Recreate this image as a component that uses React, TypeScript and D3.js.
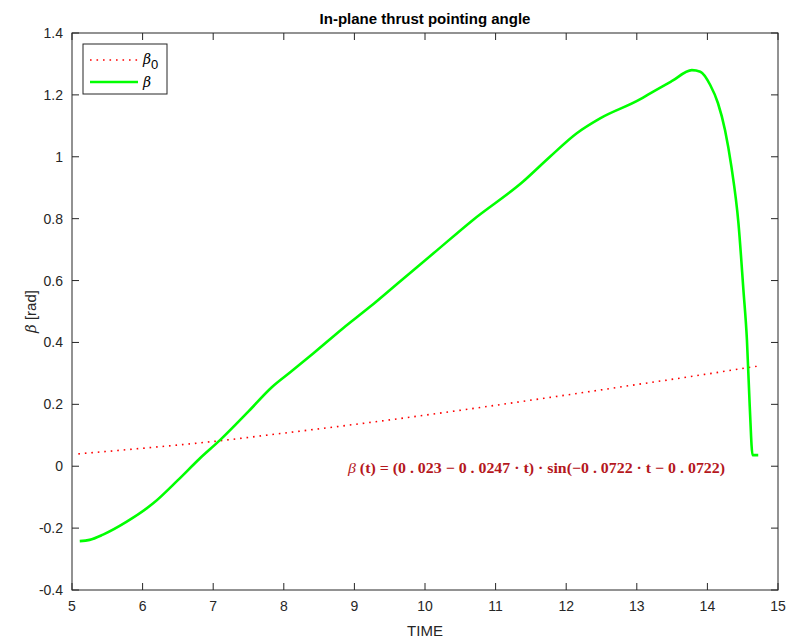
import React from "react";
import * as d3 from "d3";

const betaT = [5.11, 5.25, 5.44, 5.77, 6.15, 6.5, 6.81, 7.1, 7.5, 7.83, 8.1, 8.42, 8.84, 9.22, 9.65, 10.12, 10.68, 11.39, 11.77, 12.15, 12.48, 13.05, 13.19, 13.5, 13.78, 13.9, 14.04, 14.15, 14.25, 14.34, 14.44, 14.51, 14.56, 14.6, 14.64, 14.72];
const betaV = [-0.242, -0.238, -0.221, -0.18, -0.12, -0.045, 0.025, 0.085, 0.177, 0.255, 0.305, 0.365, 0.446, 0.515, 0.598, 0.688, 0.796, 0.92, 1.0, 1.076, 1.124, 1.186, 1.205, 1.245, 1.28, 1.275, 1.232, 1.173, 1.086, 0.968, 0.785, 0.57, 0.408, 0.192, 0.036, 0.036];
const beta0T = [5.09, 6, 7, 8, 9, 10, 11, 12, 13, 14, 14.72];
const beta0V = [0.04, 0.058, 0.08, 0.107, 0.135, 0.165, 0.197, 0.23, 0.264, 0.298, 0.324];
const xTicks = [5, 6, 7, 8, 9, 10, 11, 12, 13, 14, 15];
const yTicks = [-0.4, -0.2, 0, 0.2, 0.4, 0.6, 0.8, 1, 1.2, 1.4];

const W = 789, H = 641;
const L = 72, R = 778, T = 33, B = 590;
const axisColor = "#262626";
const font = "'Liberation Sans', Arial, Helvetica, sans-serif";

export default function App() {
  const x = d3.scaleLinear().domain([5, 15]).range([L, R]);
  const y = d3.scaleLinear().domain([-0.4, 1.4]).range([B, T]);
  const line = d3.line<[number, number]>().x(d => x(d[0])).y(d => y(d[1])).curve(d3.curveMonotoneX);
  const betaPts: [number, number][] = betaT.map((t, i) => [t, betaV[i]]);
  const beta0Pts: [number, number][] = beta0T.map((t, i) => [t, beta0V[i]]);
  const tl = 7;
  return (
    <svg width={W} height={H} style={{ position: "absolute", left: 0, top: 0, background: "#fff" }}>
      <rect x={0} y={0} width={W} height={H} fill="#fff" />
      <text x={(L + R) / 2} y={24} textAnchor="middle" fontFamily={font} fontWeight="bold" fontSize={15} fill="#000">In-plane thrust pointing angle</text>
      <path d={line(beta0Pts) || ""} fill="none" stroke="#ff0000" strokeWidth={1.6} strokeDasharray="1.6 4.9" />
      <path d={line(betaPts) || ""} fill="none" stroke="#00ff00" strokeWidth={2.6} strokeLinejoin="round" />
      <rect x={L} y={T} width={R - L} height={B - T} fill="none" stroke={axisColor} strokeWidth={1} />
      {xTicks.map(v => (
        <g key={"x" + v}>
          <line x1={x(v)} x2={x(v)} y1={B} y2={B - tl} stroke={axisColor} />
          <line x1={x(v)} x2={x(v)} y1={T} y2={T + tl} stroke={axisColor} />
          <text x={x(v)} y={611} textAnchor="middle" fontFamily={font} fontSize={14} fill="#262626">{v}</text>
        </g>
      ))}
      {yTicks.map(v => (
        <g key={"y" + v}>
          <line x1={L} x2={L + tl} y1={y(v)} y2={y(v)} stroke={axisColor} />
          <line x1={R} x2={R - tl} y1={y(v)} y2={y(v)} stroke={axisColor} />
          <text x={63} y={y(v) + 5} textAnchor="end" fontFamily={font} fontSize={14} fill="#262626">{String(+v.toFixed(1))}</text>
        </g>
      ))}
      <text x={(L + R) / 2} y={636} textAnchor="middle" fontFamily={font} fontSize={15} fill="#262626">TIME</text>
      <text transform={`translate(36,${(T + B) / 2}) rotate(-90)`} textAnchor="middle" fontFamily={font} fontSize={15} fill="#262626">
        <tspan fontFamily="'DejaVu Serif', serif" fontStyle="italic">β</tspan> [rad]
      </text>
      <text x={348} y={473} fontFamily="'Liberation Serif', 'Times New Roman', serif" fontWeight="bold" fontSize={15} fill="#b5171d" textLength={377} lengthAdjust="spacingAndGlyphs">
        <tspan fontStyle="italic" fontWeight="normal">β</tspan> (t) = (0 . 023 − 0 . 0247 · t) · sin(−0 . 0722 · t − 0 . 0722)
      </text>
      <rect x={83} y={44} width={84} height={50} fill="#fff" stroke={axisColor} strokeWidth={1} />
      <line x1={90} x2={138} y1={60} y2={60} stroke="#ff0000" strokeWidth={1.6} strokeDasharray="1.6 4.9" />
      <line x1={90} x2={138} y1={82} y2={82} stroke="#00ff00" strokeWidth={2.6} />
      <text x={143} y={64} fontFamily={font} fontSize={14} fill="#000">
        <tspan fontFamily="'DejaVu Serif', serif" fontStyle="italic">β</tspan>
        <tspan dy={5} fontSize={13}>0</tspan>
      </text>
      <text x={143} y={87} fontFamily="'DejaVu Serif', serif" fontStyle="italic" fontSize={14} fill="#000">β</text>
    </svg>
  );
}
